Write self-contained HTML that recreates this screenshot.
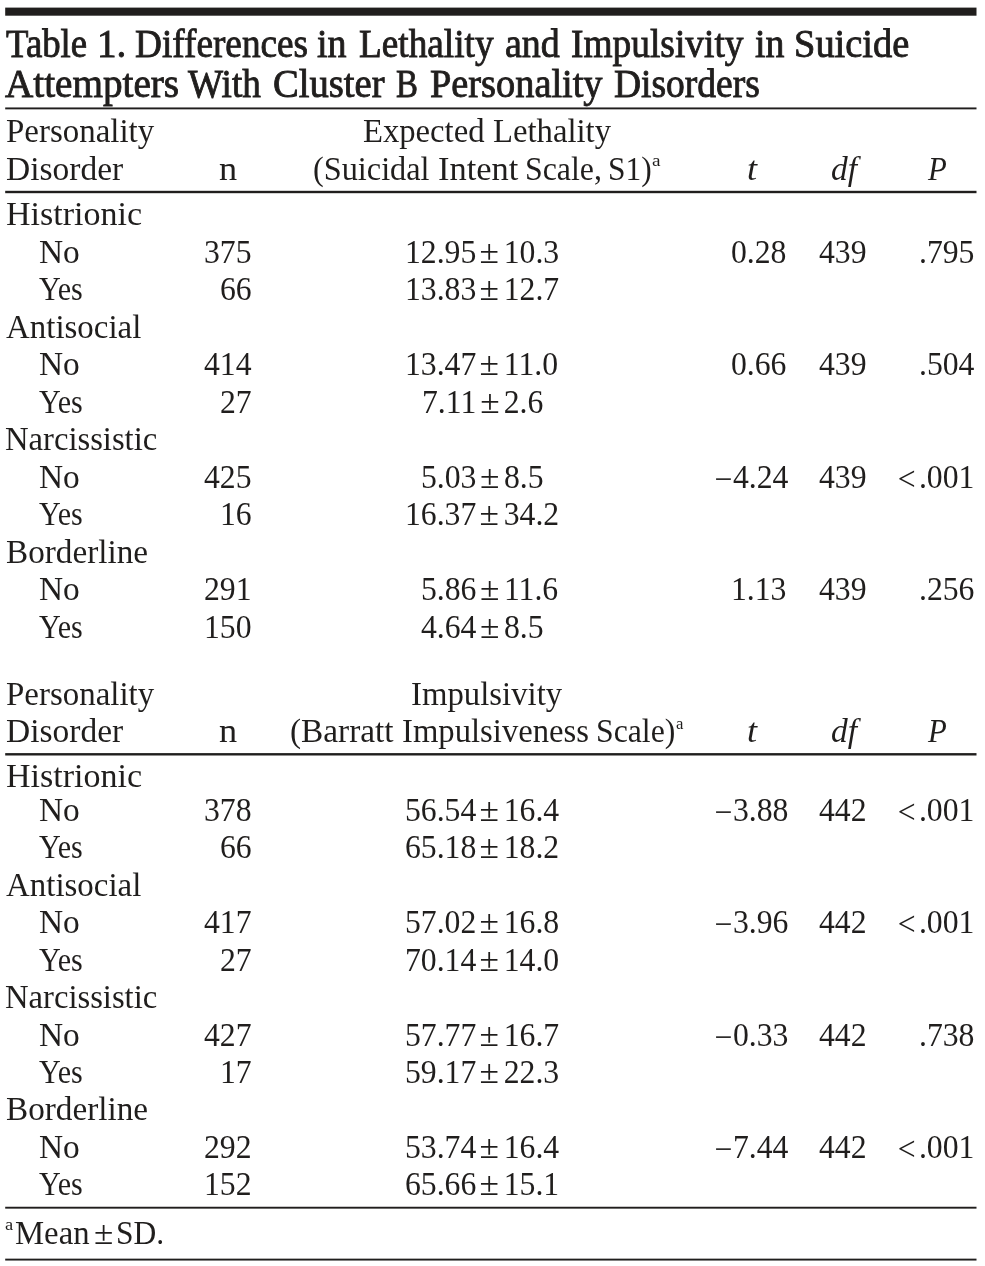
<!DOCTYPE html>
<html lang="en"><head><meta charset="utf-8"><title>Table 1</title>
<style>
html,body{margin:0;padding:0;background:#fff}
body{width:985px;height:1266px;position:relative;overflow:hidden;font-family:"Liberation Serif",serif;color:#201e1d}
.t{position:absolute;white-space:pre;line-height:36px;font-size:33.0px;transform-origin:0 0;display:block}
.i{font-style:italic}
.pm{display:inline-block;white-space:pre;margin:0 -1.4px;transform:scaleX(1.118);position:relative;left:-.55px}
.mn{position:relative;top:2px;left:-.5px}
.lt{position:relative;top:2px;left:-3.4px}
.b{-webkit-text-stroke:0.85px #201e1d}
.r{position:absolute;background:#201e1d}
</style></head><body>
<svg width="985" height="1266" viewBox="0 0 985 1266" style="position:absolute;left:0;top:0" fill="#201e1d">
<rect x="5.2" y="7.60" width="971.3" height="8.1"/>
<rect x="5.2" y="107.45" width="971.3" height="1.9"/>
<rect x="5.2" y="190.80" width="971.3" height="2.4"/>
<rect x="5.2" y="753.10" width="971.3" height="2.4"/>
<rect x="5.2" y="1206.75" width="971.3" height="1.9"/>
<rect x="5.2" y="1258.65" width="971.3" height="1.9"/>
</svg>
<span class="t b" style="left:6.04px;top:22px;transform:scaleX(0.9409);font-size:39.1px;line-height:43px">Table</span>
<span class="t b" style="left:97.26px;top:22px;transform:scaleX(1.0001);font-size:39.1px;line-height:43px">1.</span>
<span class="t b" style="left:135.13px;top:22px;transform:scaleX(0.9536);font-size:39.1px;line-height:43px">Differences</span>
<span class="t b" style="left:317.20px;top:22px;transform:scaleX(0.9726);font-size:39.1px;line-height:43px">in</span>
<span class="t b" style="left:359.33px;top:22px;transform:scaleX(0.9535);font-size:39.1px;line-height:43px">Lethality</span>
<span class="t b" style="left:504.57px;top:22px;transform:scaleX(0.9710);font-size:39.1px;line-height:43px">and</span>
<span class="t b" style="left:571.05px;top:22px;transform:scaleX(0.9572);font-size:39.1px;line-height:43px">Impulsivity</span>
<span class="t b" style="left:755.10px;top:22px;transform:scaleX(0.9692);font-size:39.1px;line-height:43px">in</span>
<span class="t b" style="left:794.43px;top:22px;transform:scaleX(0.9837);font-size:39.1px;line-height:43px">Suicide</span>
<span class="t b" style="left:4.62px;top:62px;transform:scaleX(1.0026);font-size:39.1px;line-height:43px">Attempters</span>
<span class="t b" style="left:188.46px;top:62px;transform:scaleX(0.9510);font-size:39.1px;line-height:43px">With</span>
<span class="t b" style="left:272.72px;top:62px;transform:scaleX(0.9879);font-size:39.1px;line-height:43px">Cluster</span>
<span class="t b" style="left:396.45px;top:62px;transform:scaleX(0.8419);font-size:39.1px;line-height:43px">B</span>
<span class="t b" style="left:429.59px;top:62px;transform:scaleX(0.9813);font-size:39.1px;line-height:43px">Personality</span>
<span class="t b" style="left:614.42px;top:62px;transform:scaleX(0.9597);font-size:39.1px;line-height:43px">Disorders</span>
<span class="t" style="left:5.95px;top:113px;transform:scaleX(0.9979)">Personality</span>
<span class="t" style="left:5.94px;top:151px;transform:scaleX(1.0146)">Disorder</span>
<span class="t" style="left:219.17px;top:151px;transform:scaleX(1.1021)">n</span>
<span class="t" style="left:363.06px;top:113px;transform:scaleX(0.9899)">Expected</span>
<span class="t" style="left:492.96px;top:113px;transform:scaleX(0.9910)">Lethality</span>
<span class="t" style="left:313.48px;top:151px;transform:scaleX(0.9783)">(Suicidal</span>
<span class="t" style="left:437.86px;top:151px;transform:scaleX(1.0437)">Intent</span>
<span class="t" style="left:524.67px;top:151px;transform:scaleX(0.9651)">Scale,</span>
<span class="t" style="left:607.70px;top:151px;transform:scaleX(0.9529)">S1)</span>
<span class="t" style="left:652.12px;top:150px;transform:scaleX(1.0972);font-size:17.5px;line-height:20px">a</span>
<span class="t i" style="left:747.21px;top:151px;transform:scaleX(1.0975)">t</span>
<span class="t i" style="left:830.99px;top:151px;transform:scaleX(1.0149)">df</span>
<span class="t i" style="left:928.37px;top:151px;transform:scaleX(0.9328)">P</span>
<span class="t" style="left:5.95px;top:676px;transform:scaleX(0.9979)">Personality</span>
<span class="t" style="left:5.94px;top:713px;transform:scaleX(1.0146)">Disorder</span>
<span class="t" style="left:219.17px;top:713px;transform:scaleX(1.1021)">n</span>
<span class="t" style="left:411.32px;top:676px;transform:scaleX(0.9936)">Impulsivity</span>
<span class="t" style="left:289.64px;top:713px;transform:scaleX(1.0093)">(Barratt</span>
<span class="t" style="left:401.72px;top:713px;transform:scaleX(0.9906)">Impulsiveness</span>
<span class="t" style="left:595.58px;top:713px;transform:scaleX(0.9620)">Scale)</span>
<span class="t" style="left:676.21px;top:713px;transform:scaleX(0.9528);font-size:17.5px;line-height:20px">a</span>
<span class="t i" style="left:747.21px;top:713px;transform:scaleX(1.0975)">t</span>
<span class="t i" style="left:830.99px;top:713px;transform:scaleX(1.0149)">df</span>
<span class="t i" style="left:928.37px;top:713px;transform:scaleX(0.9328)">P</span>
<span class="t" style="left:5.92px;top:196px;transform:scaleX(1.0314)">Histrionic</span>
<span class="t" style="left:39.14px;top:234px;transform:scaleX(1.0122)">No</span>
<span class="t" style="left:203.65px;top:234px;transform:scaleX(0.9606)">375</span>
<span class="t" style="left:404.68px;top:234px;transform:scaleX(0.9606)">12.95<span class="pm"> ± </span>10.3</span>
<span class="t" style="left:731.23px;top:234px;transform:scaleX(0.9606)">0.28</span>
<span class="t" style="left:819.05px;top:234px;transform:scaleX(0.9606)">439</span>
<span class="t" style="left:918.73px;top:234px;transform:scaleX(0.9606)">.795</span>
<span class="t" style="left:39.06px;top:271px;transform:scaleX(0.9103)">Yes</span>
<span class="t" style="left:219.50px;top:271px;transform:scaleX(0.9606)">66</span>
<span class="t" style="left:404.68px;top:271px;transform:scaleX(0.9606)">13.83<span class="pm"> ± </span>12.7</span>
<span class="t" style="left:5.98px;top:309px;transform:scaleX(0.9980)">Antisocial</span>
<span class="t" style="left:39.14px;top:346px;transform:scaleX(1.0122)">No</span>
<span class="t" style="left:203.65px;top:346px;transform:scaleX(0.9606)">414</span>
<span class="t" style="left:404.68px;top:346px;transform:scaleX(0.9606)">13.47<span class="pm"> ± </span>11.0</span>
<span class="t" style="left:731.23px;top:346px;transform:scaleX(0.9606)">0.66</span>
<span class="t" style="left:819.05px;top:346px;transform:scaleX(0.9606)">439</span>
<span class="t" style="left:918.73px;top:346px;transform:scaleX(0.9606)">.504</span>
<span class="t" style="left:39.06px;top:384px;transform:scaleX(0.9103)">Yes</span>
<span class="t" style="left:219.50px;top:384px;transform:scaleX(0.9606)">27</span>
<span class="t" style="left:421.70px;top:384px;transform:scaleX(0.9606)">7.11<span class="pm"> ± </span>2.6</span>
<span class="t" style="left:5.36px;top:421px;transform:scaleX(0.9888)">Narcissistic</span>
<span class="t" style="left:39.14px;top:459px;transform:scaleX(1.0122)">No</span>
<span class="t" style="left:203.65px;top:459px;transform:scaleX(0.9606)">425</span>
<span class="t" style="left:420.53px;top:459px;transform:scaleX(0.9606)">5.03<span class="pm"> ± </span>8.5</span>
<span class="t" style="left:714.73px;top:459px;transform:scaleX(0.9606)"><span class="mn">−</span>4.24</span>
<span class="t" style="left:819.05px;top:459px;transform:scaleX(0.9606)">439</span>
<span class="t" style="left:900.83px;top:459px;transform:scaleX(0.9606)"><span class="lt">&lt;</span>.001</span>
<span class="t" style="left:39.06px;top:496px;transform:scaleX(0.9103)">Yes</span>
<span class="t" style="left:219.50px;top:496px;transform:scaleX(0.9606)">16</span>
<span class="t" style="left:404.68px;top:496px;transform:scaleX(0.9606)">16.37<span class="pm"> ± </span>34.2</span>
<span class="t" style="left:6.04px;top:534px;transform:scaleX(1.0070)">Borderline</span>
<span class="t" style="left:39.14px;top:571px;transform:scaleX(1.0122)">No</span>
<span class="t" style="left:203.65px;top:571px;transform:scaleX(0.9606)">291</span>
<span class="t" style="left:420.53px;top:571px;transform:scaleX(0.9606)">5.86<span class="pm"> ± </span>11.6</span>
<span class="t" style="left:731.23px;top:571px;transform:scaleX(0.9606)">1.13</span>
<span class="t" style="left:819.05px;top:571px;transform:scaleX(0.9606)">439</span>
<span class="t" style="left:918.73px;top:571px;transform:scaleX(0.9606)">.256</span>
<span class="t" style="left:39.06px;top:609px;transform:scaleX(0.9103)">Yes</span>
<span class="t" style="left:203.65px;top:609px;transform:scaleX(0.9606)">150</span>
<span class="t" style="left:420.53px;top:609px;transform:scaleX(0.9606)">4.64<span class="pm"> ± </span>8.5</span>
<span class="t" style="left:5.92px;top:758px;transform:scaleX(1.0314)">Histrionic</span>
<span class="t" style="left:39.14px;top:792px;transform:scaleX(1.0122)">No</span>
<span class="t" style="left:203.65px;top:792px;transform:scaleX(0.9606)">378</span>
<span class="t" style="left:404.68px;top:792px;transform:scaleX(0.9606)">56.54<span class="pm"> ± </span>16.4</span>
<span class="t" style="left:714.73px;top:792px;transform:scaleX(0.9606)"><span class="mn">−</span>3.88</span>
<span class="t" style="left:819.05px;top:792px;transform:scaleX(0.9606)">442</span>
<span class="t" style="left:900.83px;top:792px;transform:scaleX(0.9606)"><span class="lt">&lt;</span>.001</span>
<span class="t" style="left:39.06px;top:829px;transform:scaleX(0.9103)">Yes</span>
<span class="t" style="left:219.50px;top:829px;transform:scaleX(0.9606)">66</span>
<span class="t" style="left:404.68px;top:829px;transform:scaleX(0.9606)">65.18<span class="pm"> ± </span>18.2</span>
<span class="t" style="left:5.98px;top:867px;transform:scaleX(0.9980)">Antisocial</span>
<span class="t" style="left:39.14px;top:904px;transform:scaleX(1.0122)">No</span>
<span class="t" style="left:203.65px;top:904px;transform:scaleX(0.9606)">417</span>
<span class="t" style="left:404.68px;top:904px;transform:scaleX(0.9606)">57.02<span class="pm"> ± </span>16.8</span>
<span class="t" style="left:714.73px;top:904px;transform:scaleX(0.9606)"><span class="mn">−</span>3.96</span>
<span class="t" style="left:819.05px;top:904px;transform:scaleX(0.9606)">442</span>
<span class="t" style="left:900.83px;top:904px;transform:scaleX(0.9606)"><span class="lt">&lt;</span>.001</span>
<span class="t" style="left:39.06px;top:942px;transform:scaleX(0.9103)">Yes</span>
<span class="t" style="left:219.50px;top:942px;transform:scaleX(0.9606)">27</span>
<span class="t" style="left:404.68px;top:942px;transform:scaleX(0.9606)">70.14<span class="pm"> ± </span>14.0</span>
<span class="t" style="left:5.36px;top:979px;transform:scaleX(0.9888)">Narcissistic</span>
<span class="t" style="left:39.14px;top:1017px;transform:scaleX(1.0122)">No</span>
<span class="t" style="left:203.65px;top:1017px;transform:scaleX(0.9606)">427</span>
<span class="t" style="left:404.68px;top:1017px;transform:scaleX(0.9606)">57.77<span class="pm"> ± </span>16.7</span>
<span class="t" style="left:714.73px;top:1017px;transform:scaleX(0.9606)"><span class="mn">−</span>0.33</span>
<span class="t" style="left:819.05px;top:1017px;transform:scaleX(0.9606)">442</span>
<span class="t" style="left:918.73px;top:1017px;transform:scaleX(0.9606)">.738</span>
<span class="t" style="left:39.06px;top:1054px;transform:scaleX(0.9103)">Yes</span>
<span class="t" style="left:219.50px;top:1054px;transform:scaleX(0.9606)">17</span>
<span class="t" style="left:404.68px;top:1054px;transform:scaleX(0.9606)">59.17<span class="pm"> ± </span>22.3</span>
<span class="t" style="left:6.04px;top:1091px;transform:scaleX(1.0070)">Borderline</span>
<span class="t" style="left:39.14px;top:1129px;transform:scaleX(1.0122)">No</span>
<span class="t" style="left:203.65px;top:1129px;transform:scaleX(0.9606)">292</span>
<span class="t" style="left:404.68px;top:1129px;transform:scaleX(0.9606)">53.74<span class="pm"> ± </span>16.4</span>
<span class="t" style="left:714.73px;top:1129px;transform:scaleX(0.9606)"><span class="mn">−</span>7.44</span>
<span class="t" style="left:819.05px;top:1129px;transform:scaleX(0.9606)">442</span>
<span class="t" style="left:900.83px;top:1129px;transform:scaleX(0.9606)"><span class="lt">&lt;</span>.001</span>
<span class="t" style="left:39.06px;top:1166px;transform:scaleX(0.9103)">Yes</span>
<span class="t" style="left:203.65px;top:1166px;transform:scaleX(0.9606)">152</span>
<span class="t" style="left:404.68px;top:1166px;transform:scaleX(0.9606)">65.66<span class="pm"> ± </span>15.1</span>
<span class="t" style="left:5.45px;top:1214px;transform:scaleX(1.0539);font-size:17.5px;line-height:20px">a</span>
<span class="t" style="left:14.76px;top:1215px;transform:scaleX(0.9920)">Mean</span>
<span class="t" style="left:94.14px;top:1215px;transform:scaleX(1.0670)">±</span>
<span class="t" style="left:116.39px;top:1215px;transform:scaleX(0.9554)">SD.</span>
</body></html>
